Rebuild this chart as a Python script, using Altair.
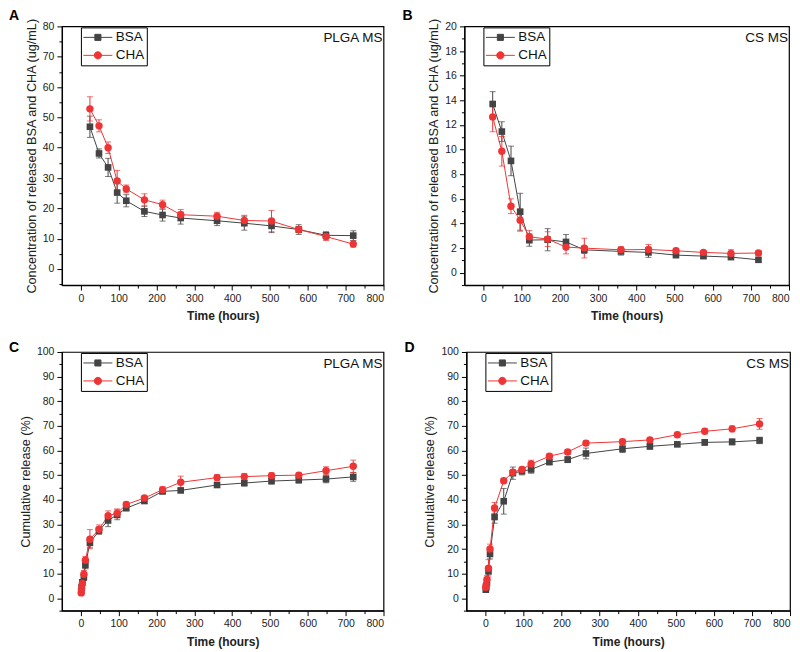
import altair as alt
import pandas as pd

# ---------------- data ----------------
T_AB = [24, 48, 72, 96, 120, 168, 216, 264, 360, 432, 504, 576, 648, 720]
T_CD = [1, 2, 4, 8, 12] + T_AB

A_BSA = [46.9, 38.1, 33.5, 25.2, 22.5, 19.0, 17.8, 16.8, 15.9, 15.1, 14.2, 13.0, 11.1, 11.0]
A_BSA_ERR = [3.5, 1.5, 3.0, 3.5, 2.0, 1.7, 2.0, 2.0, 1.6, 2.3, 2.2, 1.6, 1.2, 1.6]
A_CHA = [52.8, 47.2, 40.0, 29.0, 26.4, 22.8, 21.2, 17.9, 17.4, 16.0, 15.8, 13.0, 10.7, 8.2]
A_CHA_ERR = [4.0, 2.0, 1.9, 3.5, 1.3, 2.0, 1.5, 1.7, 1.3, 1.7, 3.5, 1.0, 1.3, 1.0]

B_BSA = [13.7, 11.46, 9.08, 4.95, 2.65, 2.68, 2.5, 1.86, 1.73, 1.65, 1.43, 1.35, 1.27, 1.05]
B_BSA_ERR = [1.0, 0.8, 1.2, 1.5, 0.5, 0.9, 0.6, 0.3, 0.3, 0.4, 0.2, 0.2, 0.2, 0.15]
B_CHA = [12.65, 9.86, 5.4, 4.27, 2.92, 2.73, 2.08, 2.0, 1.86, 1.89, 1.78, 1.65, 1.57, 1.6]
B_CHA_ERR = [1.2, 1.2, 0.6, 0.9, 0.5, 0.6, 0.55, 0.8, 0.25, 0.4, 0.2, 0.15, 0.3, 0.2]

C_BSA = [3.0, 4.5, 6.5, 8.5, 13.5, 22.5, 27.5, 31.6, 33.9, 36.6, 39.5, 43.4, 43.8, 46.0, 46.8, 47.6, 48.0, 48.4, 49.3]
C_BSA_ERR = [0.8, 1.0, 1.0, 1.2, 1.5, 2.0, 1.5, 2.5, 2.0, 1.0, 1.0, 1.0, 0.8, 1.0, 1.2, 1.2, 1.2, 1.5, 1.8]
C_CHA = [2.2, 4.0, 6.0, 9.8, 15.5, 24.0, 28.0, 33.5, 34.5, 38.1, 40.7, 44.1, 47.1, 49.0, 49.4, 49.8, 50.0, 51.8, 53.6]
C_CHA_ERR = [0.8, 1.0, 1.0, 1.5, 1.5, 3.9, 1.8, 2.0, 1.8, 1.0, 1.0, 1.2, 2.5, 1.3, 1.3, 1.2, 1.0, 1.6, 2.5]

D_BSA = [3.5, 4.5, 6.2, 11.0, 18.0, 33.0, 39.4, 50.8, 51.6, 52.3, 55.3, 56.3, 58.8, 60.7, 61.7, 62.5, 63.3, 63.5, 64.1]
D_BSA_ERR = [1.0, 1.0, 1.0, 1.5, 2.0, 2.5, 5.2, 2.5, 1.5, 1.5, 1.0, 1.2, 2.2, 1.5, 1.2, 0.8, 1.2, 1.2, 1.3]
D_CHA = [4.5, 5.5, 7.7, 12.2, 20.0, 36.7, 47.7, 51.2, 52.3, 54.5, 57.7, 59.4, 63.0, 63.6, 64.3, 66.4, 67.8, 68.8, 70.8]
D_CHA_ERR = [1.0, 1.0, 1.5, 3.5, 2.0, 2.2, 1.0, 1.0, 1.0, 1.5, 1.0, 1.0, 1.0, 1.0, 1.0, 1.0, 1.0, 1.2, 2.2]

SERIES = ["BSA", "CHA"]
COLORS = ["#444444", "#EE3535"]
X_MAJOR = list(range(0, 801, 100))
X_MINOR = list(range(50, 801, 100))

FONT = "Liberation Sans"
H = 259
LEG_SQ = "M-1,0H1M-0.21,-0.21H0.21V0.21H-0.21Z"
LEG_CI = "M-1,0H1M-0.25,0A0.25,0.25,0,1,1,0.25,0A0.25,0.25,0,1,1,-0.25,0Z"


def panel(times, bsa, bsa_err, cha, cha_err, ydom, ymaj, ymin, ytitle,
          name, letter, lx, ly, W):
    n = len(times)
    df = pd.DataFrame({
        "Time": list(times) * 2,
        "Value": list(bsa) + list(cha),
        "Err": list(bsa_err) + list(cha_err),
        "Series": ["BSA"] * n + ["CHA"] * n,
    })
    df["Lo"] = df["Value"] - df["Err"]
    df["Hi"] = df["Value"] + df["Err"]

    xs = alt.Scale(domain=[-50, 800], nice=False, zero=False)
    ys = alt.Scale(domain=ydom, nice=False, zero=False)

    x_axis = alt.Axis(values=X_MAJOR, title="Time (hours)", tickSize=5,
                      labelPadding=3, titlePadding=7, titleFontWeight="bold",
                      titleFontSize=12, labelFontSize=10.5, grid=False)
    y_axis = alt.Axis(values=ymaj, title=ytitle, tickSize=5, labelPadding=3,
                      titlePadding=4, titleFontWeight="normal",
                      titleFontSize=12.7, labelFontSize=10.5, grid=False)

    X = alt.X("Time:Q", scale=xs, axis=x_axis)
    Y = alt.Y("Value:Q", scale=ys, axis=y_axis)
    YLo = alt.Y("Lo:Q", scale=ys, axis=y_axis)

    base = alt.Chart(df)
    layers = []
    for s, col in zip(SERIES, COLORS):
        sub = base.transform_filter(f"datum.Series == '{s}'")
        layers.append(sub.mark_line(strokeWidth=1, color=col).encode(x=X, y=Y))
    for s, col in zip(SERIES, COLORS):
        sub = base.transform_filter(f"datum.Series == '{s}'")
        layers.append(sub.mark_errorbar(color=col, ticks={"size": 6},
                                        rule={"strokeWidth": 1}).encode(x=X, y=YLo, y2="Hi:Q"))
    layers.append(base.transform_filter("datum.Series == 'BSA'").mark_square(
        size=44, opacity=1, color=COLORS[0]).encode(x=X, y=Y))
    layers.append(base.transform_filter("datum.Series == 'CHA'").mark_circle(
        size=55, opacity=1, color=COLORS[1]).encode(x=X, y=Y))

    leg = alt.Legend(orient="none", legendX=19, legendY=1, title=None,
                     strokeColor="black", fillColor="white", padding=2,
                     symbolSize=841, symbolStrokeWidth=1, symbolOpacity=1,
                     clipHeight=16, rowPadding=2, labelFontSize=13.5,
                     labelFont=FONT, labelColor="#111", labelOffset=3)
    legend_layer = base.mark_point(filled=True, opacity=0).encode(
        x=X, y=Y,
        shape=alt.Shape("Series:N", scale=alt.Scale(domain=SERIES, range=[LEG_SQ, LEG_CI]), legend=leg),
        fill=alt.Fill("Series:N", scale=alt.Scale(domain=SERIES, range=COLORS), legend=leg),
        stroke=alt.Stroke("Series:N", scale=alt.Scale(domain=SERIES, range=COLORS), legend=leg),
    )
    layers.append(legend_layer)

    name_txt = alt.Chart(pd.DataFrame({"t": [name]})).mark_text(
        align="right", baseline="alphabetic", fontSize=13.5, font=FONT,
        color="#111").encode(text="t:N", x=alt.value(W - 1), y=alt.value(16))
    letter_txt = alt.Chart(pd.DataFrame({"t": [letter]})).mark_text(
        align="left", baseline="alphabetic", fontSize=14, fontWeight="bold",
        font=FONT, color="#000").encode(text="t:N", x=alt.value(lx), y=alt.value(ly))

    main = alt.layer(*layers, name_txt, letter_txt)

    minor = base.mark_point(opacity=0).encode(
        x=alt.X("Time:Q", scale=xs, axis=alt.Axis(values=X_MINOR, labels=False, title=None,
                                                  tickSize=3, domain=False, orient="bottom", grid=False)),
        y=alt.Y("Value:Q", scale=ys, axis=alt.Axis(values=ymin, labels=False, title=None,
                                                   tickSize=3, domain=False, orient="left", grid=False)),
    )
    return alt.layer(main, minor).resolve_axis(x="independent", y="independent").properties(
        width=W, height=H)


pA = panel(T_AB, A_BSA, A_BSA_ERR, A_CHA, A_CHA_ERR, [-5.3, 80],
           list(range(0, 81, 10)), list(range(-5, 80, 10)),
           "Concentration of released BSA and CHA (ug/mL)", "PLGA MS", "A", -53, -6, 322)
pB = panel(T_AB, B_BSA, B_BSA_ERR, B_CHA, B_CHA_ERR, [-1.0, 20],
           list(range(0, 21, 2)), list(range(-1, 20, 2)),
           "Concentration of released BSA and CHA (ug/mL)", "CS MS", "B", -62, -6, 325)
pC = panel(T_CD, C_BSA, C_BSA_ERR, C_CHA, C_CHA_ERR, [-5.0, 100],
           list(range(0, 101, 10)), list(range(-5, 100, 10)),
           "Cumulative release (%)", "PLGA MS", "C", -53, 0, 322)
pD = panel(T_CD, D_BSA, D_BSA_ERR, D_CHA, D_CHA_ERR, [-5.0, 100],
           list(range(0, 101, 10)), list(range(-5, 100, 10)),
           "Cumulative release (%)", "CS MS", "D", -62, 0, 324)

ind = dict(shape="independent", fill="independent", stroke="independent")
row1 = alt.hconcat(pA, pB, spacing=16).resolve_scale(**ind)
row2 = alt.hconcat(pC, pD, spacing=18).resolve_scale(**ind)
chart = alt.vconcat(row1, row2, spacing=17).resolve_scale(**ind).properties(
    padding=0, background="white"
).configure_view(stroke="black", strokeWidth=1.2).configure_axis(
    domainColor="black", tickColor="black", labelColor="#222", titleColor="#222",
    labelFont=FONT, titleFont=FONT, domainWidth=1.2, tickWidth=1
)

chart.save("out.html", embed_options={"renderer": "svg", "actions": False})
